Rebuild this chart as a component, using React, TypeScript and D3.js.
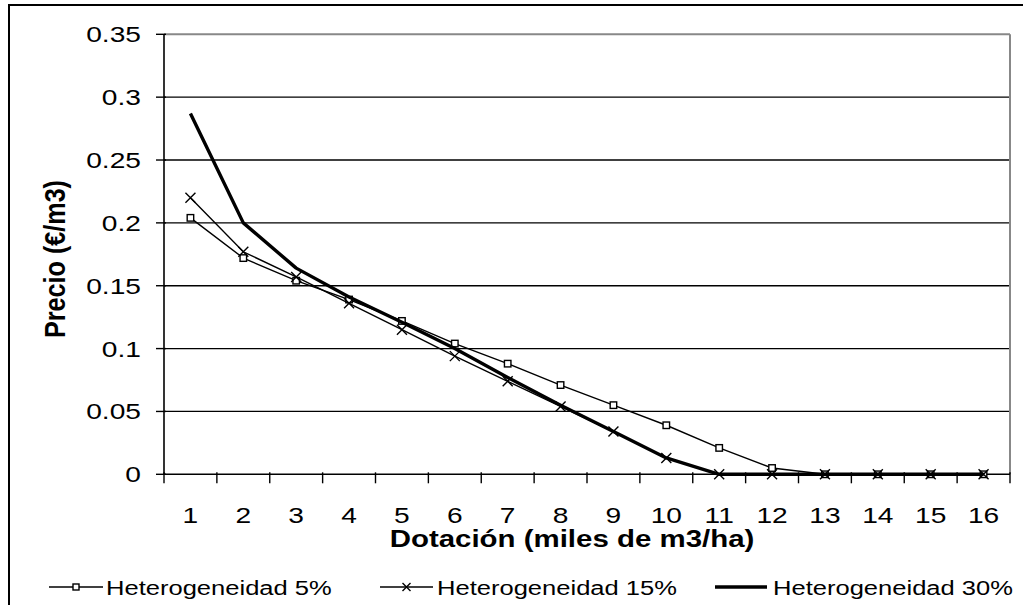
import React from "react";
import * as d3 from "d3";

// categories: Dotación (miles de m3/ha)
const categories = [1, 2, 3, 4, 5, 6, 7, 8, 9, 10, 11, 12, 13, 14, 15, 16];

// Precio (€/m3) per series
const het5 = [0.204, 0.172, 0.154, 0.139, 0.122, 0.104, 0.088, 0.071, 0.055, 0.039, 0.021, 0.005, 0, 0, 0, 0];
const het15 = [0.22, 0.177, 0.157, 0.136, 0.115, 0.094, 0.074, 0.054, 0.034, 0.013, 0, 0, 0, 0, 0, 0];
const het30 = [0.287, 0.2, 0.164, 0.141, 0.121, 0.1, 0.077, 0.055, 0.034, 0.013, 0, 0, 0, 0, 0, 0];

const yTicks = [0, 0.05, 0.1, 0.15, 0.2, 0.25, 0.3, 0.35];
const seriesNames = ["Heterogeneidad 5%", "Heterogeneidad 15%", "Heterogeneidad 30%"];

const FONT = "'Liberation Sans', Arial, sans-serif";
const SX = 1.28; // the original chart is stretched horizontally

const W = 1023;
const H = 605;
const left = 164;
const right = 1010;
const top = 34.3;
const bottom = 474.3;

function SText({ x, y, size, anchor = "start", bold = false, sx = SX, children }) {
  return (
    <text
      transform={`translate(${x},${y}) scale(${sx},1)`}
      textAnchor={anchor}
      fontSize={size}
      fontWeight={bold ? "bold" : "normal"}
      fontFamily={FONT}
      fill="#000"
    >
      {children}
    </text>
  );
}

function Square({ cx, cy, s = 6.5 }) {
  return <rect x={cx - s / 2} y={cy - s / 2} width={s} height={s} fill="#fff" stroke="#000" strokeWidth={1.4} />;
}

function Cross({ cx, cy, s = 5 }) {
  return (
    <path
      d={`M${cx - s},${cy - s}L${cx + s},${cy + s}M${cx - s},${cy + s}L${cx + s},${cy - s}`}
      stroke="#000"
      strokeWidth={1.4}
      fill="none"
    />
  );
}

export default function App() {
  const x = d3.scaleBand<number>().domain(categories).range([left, right]).padding(0);
  const y = d3.scaleLinear().domain([0, 0.35]).range([bottom, top]);
  const cx = (c: number) => (x(c) as number) + x.bandwidth() / 2;

  const line = d3
    .line<number>()
    .x((d, i) => cx(categories[i]))
    .y((d) => y(d));

  const boundaries = categories.map((c) => x(c) as number).concat([right]);

  const legendY = 587;
  const legend = [
    { x0: 49, x1: 103, tx: 106, marker: "square", w: 1.4 },
    { x0: 380, x1: 433, tx: 437, marker: "cross", w: 1.4 },
    { x0: 715, x1: 767, tx: 773, marker: "none", w: 3.4 },
  ];

  return (
    <svg
      width={W}
      height={H}
      style={{ position: "fixed", left: 0, top: 0, background: "#fff" }}
    >
      <rect x={0} y={0} width={W} height={H} fill="#fff" />
      {/* chart frame */}
      <rect x={9} y={5} width={1200} height={800} fill="none" stroke="#000" strokeWidth={2} />

      {/* gridlines */}
      {yTicks
        .filter((t) => t > 0 && t < 0.35)
        .map((t) => (
          <line key={t} x1={left} x2={right} y1={y(t)} y2={y(t)} stroke="#000" strokeWidth={1.3} />
        ))}
      {/* plot border (gray) */}
      <line x1={left} x2={right} y1={y(0.35)} y2={y(0.35)} stroke="#888" strokeWidth={2} />
      <line x1={right} x2={right} y1={top} y2={bottom} stroke="#888" strokeWidth={2} />

      {/* y axis */}
      <line x1={left} x2={left} y1={top} y2={bottom} stroke="#000" strokeWidth={1.6} />
      {yTicks.map((t) => (
        <g key={t}>
          <line x1={left - 8} x2={left + 2} y1={y(t)} y2={y(t)} stroke="#000" strokeWidth={1.4} />
          <SText x={141} y={y(t) + 8} size={22} anchor="end">
            {String(t)}
          </SText>
        </g>
      ))}

      {/* x axis */}
      <line x1={left} x2={right} y1={bottom} y2={bottom} stroke="#000" strokeWidth={1.6} />
      {boundaries.map((b, i) => (
        <line key={i} x1={b} x2={b} y1={bottom - 2} y2={bottom + 9} stroke="#000" strokeWidth={1.4} />
      ))}
      {categories.map((c) => (
        <SText key={c} x={cx(c)} y={523} size={22} anchor="middle">
          {String(c)}
        </SText>
      ))}

      {/* axis titles */}
      <SText x={(left + right) / 2 - 15} y={547} size={23} anchor="middle" bold>
        Dotación (miles de m3/ha)
      </SText>
      <text
        transform={`translate(65,259) scale(${SX},1) rotate(-90)`}
        textAnchor="middle"
        fontSize={23}
        fontWeight="bold"
        fontFamily={FONT}
        textLength={158}
        lengthAdjust="spacingAndGlyphs"
      >
        Precio (€/m3)
      </text>

      {/* series */}
      <path d={line(het5) || ""} fill="none" stroke="#000" strokeWidth={1.4} />
      {het5.map((v, i) => (
        <Square key={i} cx={cx(categories[i])} cy={y(v)} />
      ))}
      <path d={line(het15) || ""} fill="none" stroke="#000" strokeWidth={1.4} />
      {het15.map((v, i) => (
        <Cross key={i} cx={cx(categories[i])} cy={y(v)} />
      ))}
      <path d={line(het30) || ""} fill="none" stroke="#000" strokeWidth={3.4} strokeLinejoin="round" />

      {/* legend */}
      {legend.map((l, i) => (
        <g key={i}>
          <line x1={l.x0} x2={l.x1} y1={legendY} y2={legendY} stroke="#000" strokeWidth={l.w} />
          {l.marker === "square" && <Square cx={(l.x0 + l.x1) / 2} cy={legendY} s={6} />}
          {l.marker === "cross" && <Cross cx={(l.x0 + l.x1) / 2} cy={legendY} s={4} />}
          <SText x={l.tx} y={595} size={19.5} sx={1.31}>
            {seriesNames[i]}
          </SText>
        </g>
      ))}
    </svg>
  );
}
